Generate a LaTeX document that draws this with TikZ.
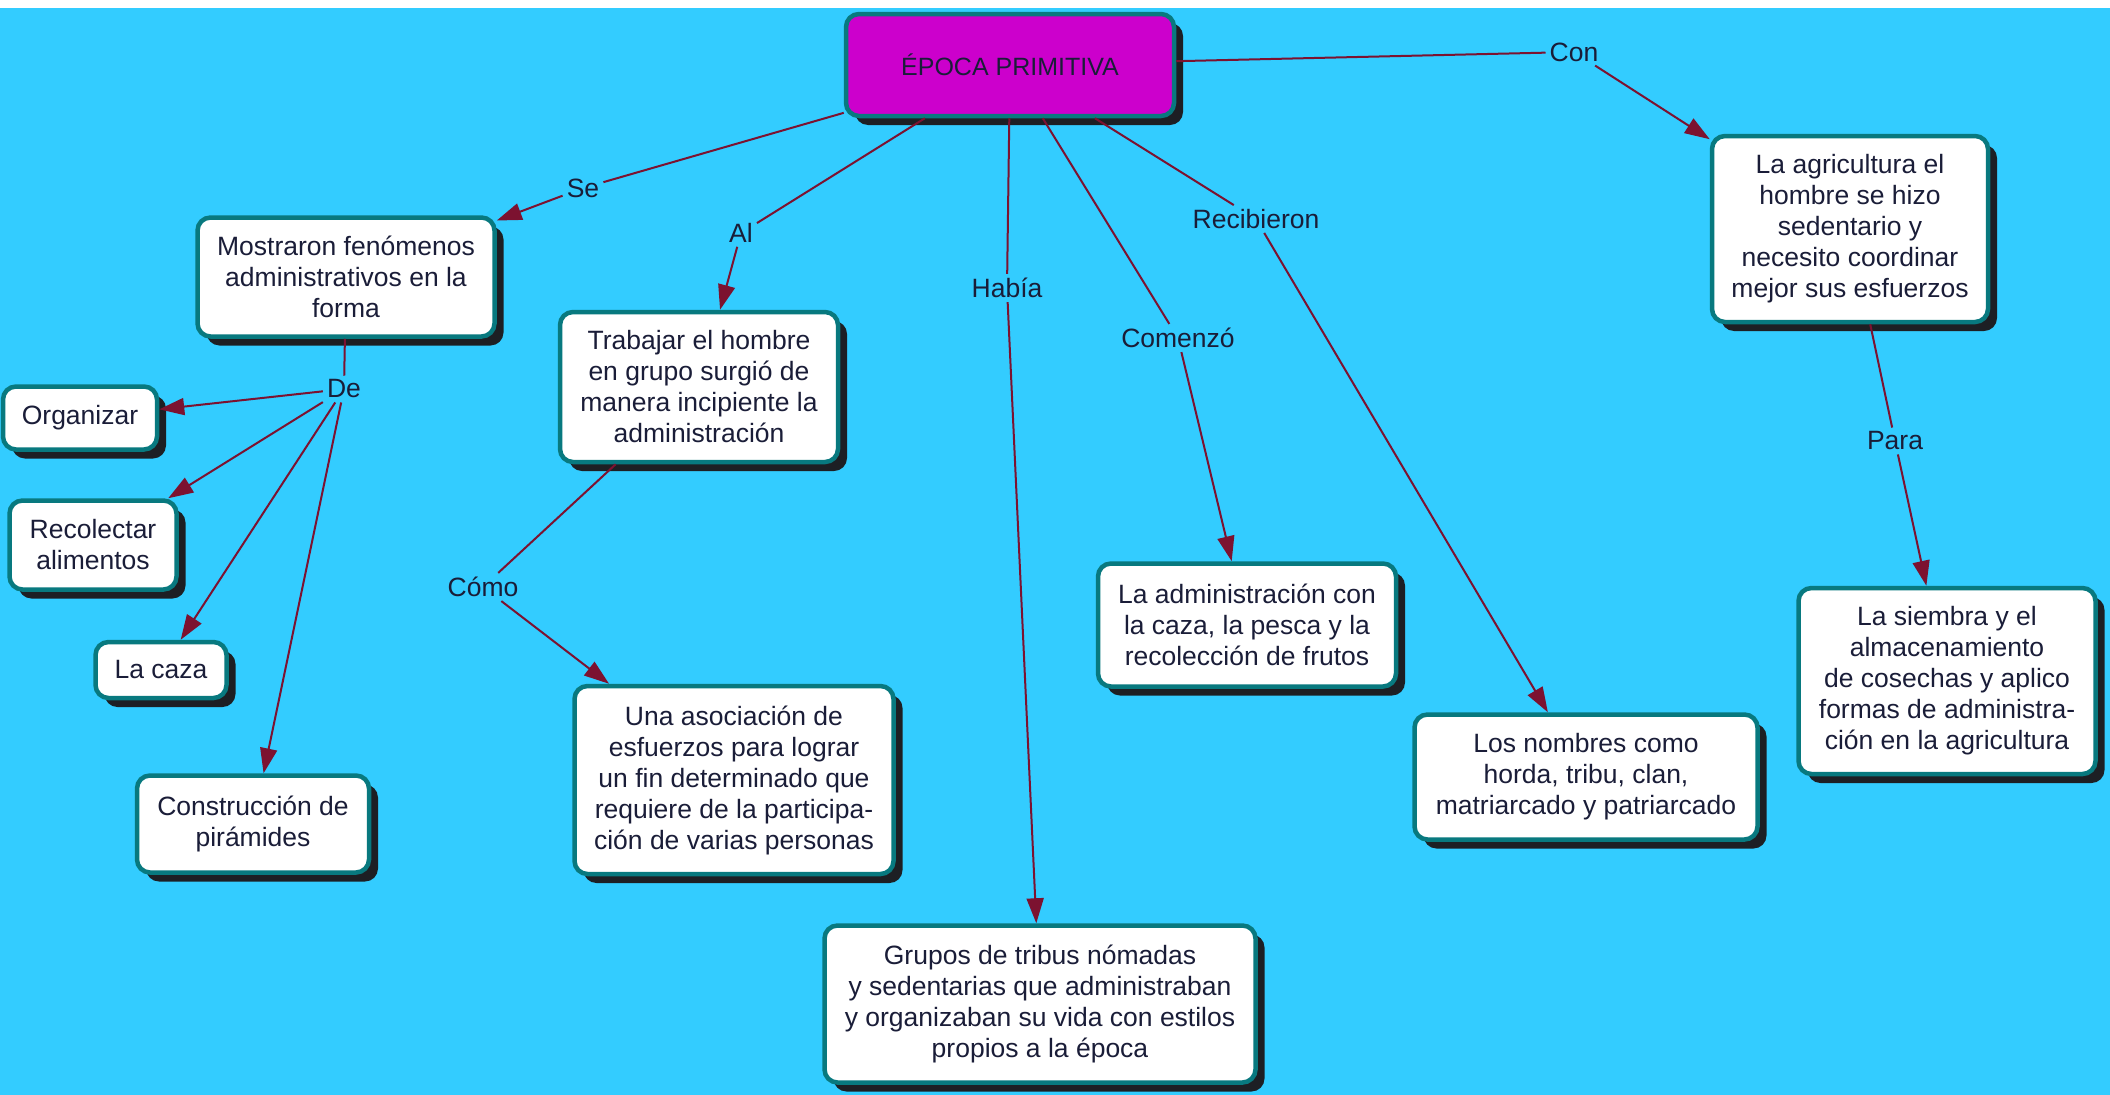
\documentclass[tikz,border=0pt]{standalone}
\usepackage{fontspec}
\setmainfont{Liberation Sans}
\usetikzlibrary{positioning,shadows,arrows.meta}
\definecolor{skyback}{HTML}{33CCFF}
\definecolor{boxrim}{HTML}{08797F}
\definecolor{boxshade}{HTML}{1D1F24}
\definecolor{linkred}{HTML}{7C1230}
\definecolor{inkcol}{HTML}{1A1D38}
\definecolor{rootfill}{HTML}{CC00CC}

\begin{document}
\begin{tikzpicture}[x=1pt, y=-1pt,
    concept/.style={draw=boxrim, line width=4.5pt, fill=white, rounded corners=13pt,
      align=center, inner sep=2pt, text=inkcol,
      font=\fontsize{26.5}{31}\selectfont,
      general shadow={shadow xshift=9pt, shadow yshift=-9pt, fill=boxshade}},
    linkword/.style={text=inkcol, inner sep=4pt, font=\fontsize{26.5}{31}\selectfont},
    link/.style={draw=linkred, line width=2pt},
    arrowlink/.style={link, -{Triangle[length=25pt, width=17pt]}}]
  \useasboundingbox (0,0) rectangle (2110,1095);
  \fill[white] (0,0) rectangle (2110,1095);
  \fill[skyback] (0,8) rectangle (2110,1095);

  \node[concept, fill=rootfill, minimum width=328pt, minimum height=102pt,
    font=\fontsize{25}{30}\selectfont] (epoca) at (1010,65) {ÉPOCA PRIMITIVA};
  \node[concept, minimum width=297pt, minimum height=119pt] (mostraron) at (346,277)
    {Mostraron fenómenos\\administrativos en la\\forma};
  \node[concept, minimum width=278pt, minimum height=150pt] (trabajar) at (699,387)
    {Trabajar el hombre\\en grupo surgió de\\manera incipiente la\\administración};
  \node[concept, minimum width=154pt, minimum height=63pt] (organizar) at (80,418) {Organizar};
  \node[concept, minimum width=167pt, minimum height=89pt] (recolectar) at (93,545)
    {Recolectar\\alimentos};
  \node[concept, minimum width=131pt, minimum height=56pt] (caza) at (161,670) {La caza};
  \node[concept, minimum width=232pt, minimum height=97pt] (piramides) at (253,824)
    {Construcción de\\pirámides};
  \node[concept, minimum width=319pt, minimum height=188pt] (asociacion) at (734,780)
    {Una asociación de\\esfuerzos para lograr\\un fin determinado que\\requiere de la participa-\\ción de varias personas};
  \node[concept, minimum width=431pt, minimum height=157pt] (grupos) at (1040,1004)
    {Grupos de tribus nómadas\\y sedentarias que administraban\\y organizaban su vida con estilos\\propios a la época};
  \node[concept, minimum width=298pt, minimum height=123pt] (frutos) at (1247,625)
    {La administración con\\la caza, la pesca y la\\recolección de frutos};
  \node[concept, minimum width=343pt, minimum height=125pt] (nombres) at (1586,777)
    {Los nombres como\\horda, tribu, clan,\\matriarcado y patriarcado};
  \node[concept, minimum width=276pt, minimum height=186pt] (agricultura) at (1850,229)
    {La agricultura el\\hombre se hizo\\sedentario y\\necesito coordinar\\mejor sus esfuerzos};
  \node[concept, minimum width=297pt, minimum height=186pt] (siembra) at (1947,681)
    {La siembra y el\\almacenamiento\\de cosechas y aplico\\formas de administra-\\ción en la agricultura};

  \node[linkword] (se) at (583,188) {Se};
  \node[linkword] (al) at (741,233) {Al};
  \node[linkword] (habia) at (1007,288) {Había};
  \node[linkword] (comenzo) at (1178,338) {Comenzó};
  \node[linkword] (recibieron) at (1256,219) {Recibieron};
  \node[linkword] (con) at (1574,52) {Con};
  \node[linkword] (para) at (1895,441) {Para};
  \node[linkword] (de) at (344,389) {De};
  \node[linkword] (como) at (483,587) {Cómo};

  \draw[link] (epoca) -- (se);
  \draw[arrowlink] (se) -- (mostraron);
  \draw[link] (epoca) -- (al);
  \draw[arrowlink] (al) -- (trabajar);
  \draw[link] (epoca) -- (habia);
  \draw[arrowlink] (habia) -- (grupos);
  \draw[link] (epoca) -- (comenzo);
  \draw[arrowlink] (comenzo) -- (frutos);
  \draw[link] (epoca) -- (recibieron);
  \draw[arrowlink] (recibieron) -- (nombres);
  \draw[link] (epoca) -- (con);
  \draw[arrowlink] (con) -- (agricultura);
  \draw[link] (agricultura) -- (para);
  \draw[arrowlink] (para) -- (siembra);
  \draw[link] (mostraron) -- (de);
  \foreach \target in {organizar, recolectar, caza, piramides}
    \draw[arrowlink] (de) -- (\target);
  \draw[link] (trabajar) -- (como);
  \draw[arrowlink] (como) -- (asociacion);
\end{tikzpicture}
\end{document}
